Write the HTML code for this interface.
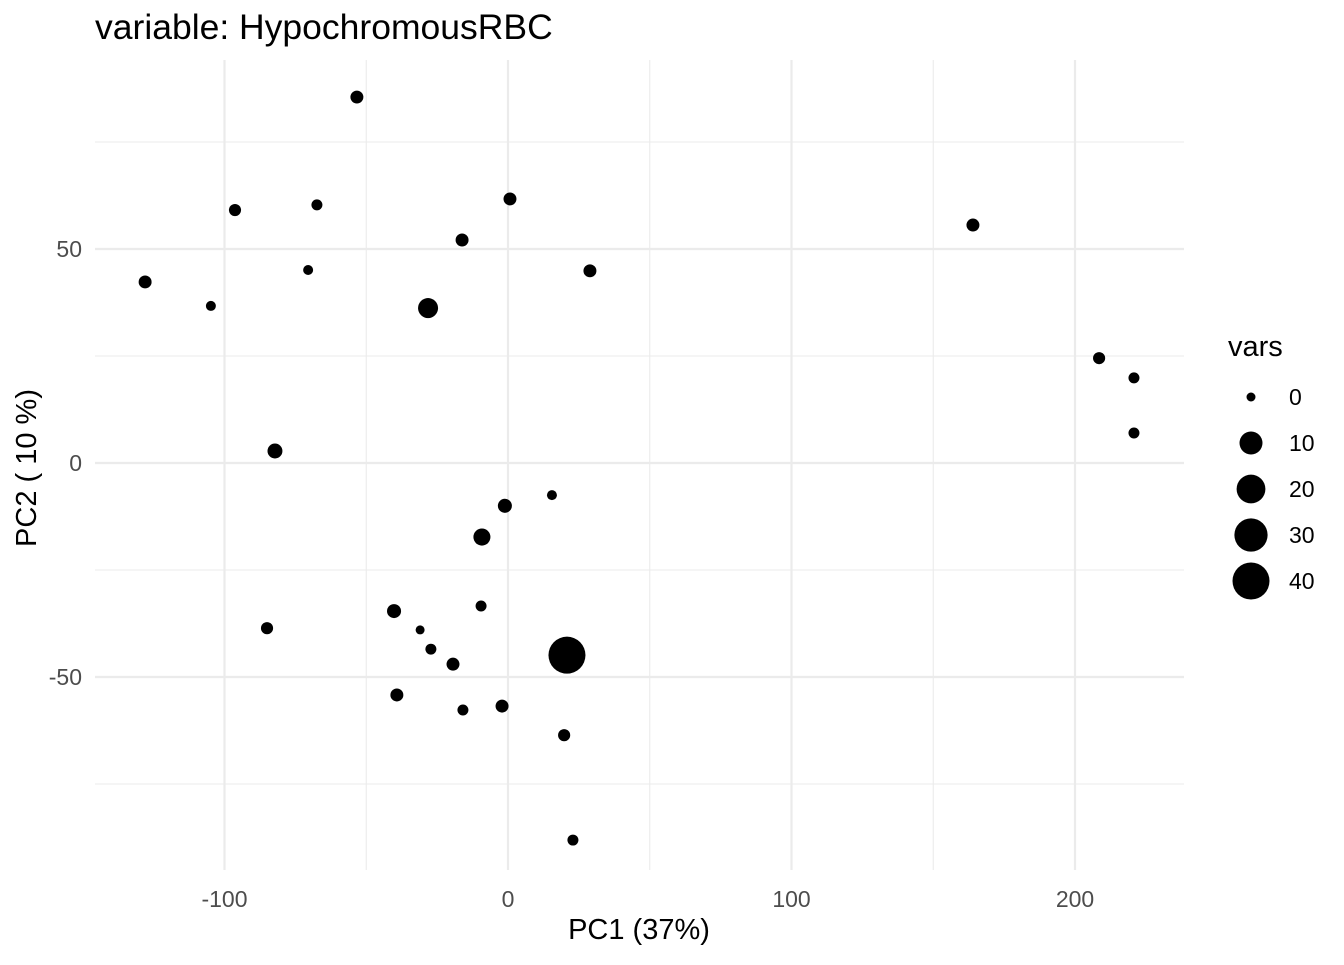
<!DOCTYPE html>
<html><head><meta charset="utf-8"><style>
body{margin:0;background:#fff;font-family:"Liberation Sans",sans-serif}
</style></head><body>
<svg id="chart" width="1344" height="960" xmlns="http://www.w3.org/2000/svg">
<text x="95" y="39" font-size="35.5" fill="#000">variable: HypochromousRBC</text>
<g id="grid"></g>
<g id="xt"></g>
<g id="yt"></g>
<g id="pts"></g>
<text x="639" y="939" font-size="29" text-anchor="middle">PC1 (37%)</text>
<text transform="translate(36,468) rotate(-90)" font-size="29" text-anchor="middle">PC2 ( 10 %)</text>
<text x="1228" y="356" font-size="29">vars</text>
<g id="leg"></g>
</svg>
<script>
const xs=[-53.3,-96.3,-67.4,0.7,-16.2,164.0,-128.0,-70.5,28.9,-104.8,-28.2,208.5,220.8,220.8,-82.2,15.5,-1.1,-9.2,-40.2,-9.5,-85.0,-31.0,-27.2,-19.4,20.8,-39.2,-15.9,-2.1,19.8,22.9];
const ys=[85.5,59.1,60.3,61.7,52.1,55.6,42.3,45.1,44.9,36.7,36.2,24.5,19.9,7.0,2.8,-7.5,-10.0,-17.3,-34.6,-33.4,-38.6,-39.0,-43.5,-47.0,-44.9,-54.2,-57.7,-56.8,-63.6,-88.1];
const vars=[0.8,0.5,0.2,0.8,0.8,0.8,0.8,0.05,0.8,0.05,6.2,0.5,0.2,0.2,1.8,0.05,1.3,3.3,1.3,0.2,0.5,0,0.2,0.8,40,0.8,0.2,0.8,0.5,0.2];
const xTicks=[-100,0,100,200];
const yTicks=[50,0,-50];
const xMinor=[-50,50,150];
const yMinor=[75,25,-25,-75];
const legVals=[0,10,20,30,40];
const L=95,R=1184,T=60,B=870;
const X=v=>508+v*2.835, Y=v=>463-v*4.28;
const rad=v=>4.5+14*Math.sqrt(Math.max(0,v)/40);
const NS="http://www.w3.org/2000/svg";
function mk(p,tag,at){const e=document.createElementNS(NS,tag);for(const k in at)e.setAttribute(k,at[k]);p.appendChild(e);return e;}
const g=document.getElementById('grid');
xMinor.forEach(v=>{const e=mk(g,'line',{x1:X(v),x2:X(v),y1:T,y2:B,stroke:'#ebebeb','stroke-width':1.1});

});
yMinor.forEach(v=>{const e=mk(g,'line',{x1:L,x2:R,y1:Y(v),y2:Y(v),stroke:'#ebebeb','stroke-width':1.1});

});
xTicks.forEach(v=>{const e=mk(g,'line',{x1:X(v),x2:X(v),y1:T,y2:B,stroke:'#ebebeb','stroke-width':2.2});


const t=mk(document.getElementById('xt'),'text',{x:X(v),y:907,'font-size':23,fill:'#4d4d4d','text-anchor':'middle'});t.textContent=v;

});
yTicks.forEach(v=>{const e=mk(g,'line',{x1:L,x2:R,y1:Y(v),y2:Y(v),stroke:'#ebebeb','stroke-width':2.2});


const t=mk(document.getElementById('yt'),'text',{x:82,y:Y(v)+8,'font-size':23,fill:'#4d4d4d','text-anchor':'end'});t.textContent=v;

});
const pg=document.getElementById('pts');
xs.forEach((x,i)=>{const c=mk(pg,'circle',{cx:X(x),cy:Y(ys[i]),r:rad(vars[i]),fill:'#000'});

});
const lg=document.getElementById('leg');
legVals.forEach((v,i)=>{const y=397+i*46;
const c=mk(lg,'circle',{cx:1251,cy:y,r:rad(v),fill:'#000'});


const t=mk(lg,'text',{x:1289,y:y+8,'font-size':23,fill:'#000'});t.textContent=v;

});
</script>
</body></html>
